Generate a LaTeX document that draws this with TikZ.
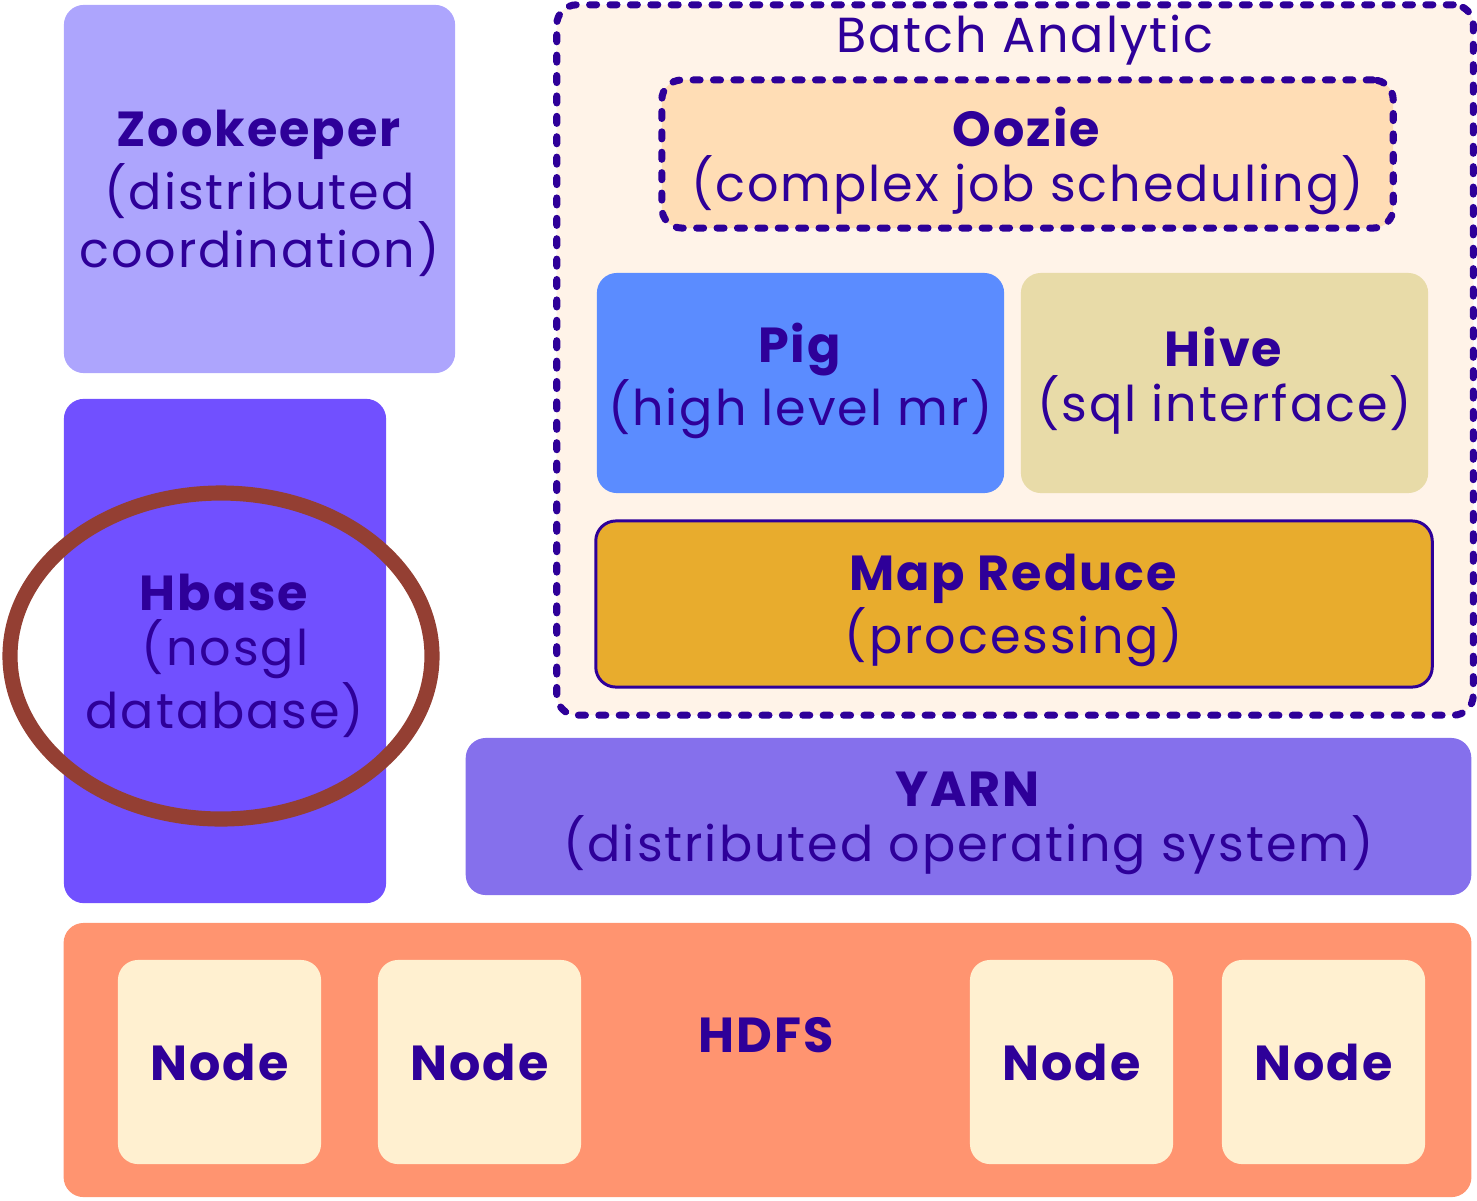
\documentclass[tikz,border=0pt]{standalone}
\usepackage{fontspec}
\setmainfont{Poppins}[LetterSpace=4]
\usetikzlibrary{positioning,shapes.geometric}

\definecolor{ink}{HTML}{2E0099}
\definecolor{zoo}{HTML}{ADA5FD}
\definecolor{hbase}{HTML}{7150FF}
\definecolor{ring}{HTML}{943F33}
\definecolor{batch}{HTML}{FFF3E8}
\definecolor{oozie}{HTML}{FFDDB5}
\definecolor{pig}{HTML}{5B8CFF}
\definecolor{hive}{HTML}{E8DBA8}
\definecolor{mapred}{HTML}{E8AC2D}
\definecolor{yarn}{HTML}{8570EC}
\definecolor{hdfs}{HTML}{FF9470}
\definecolor{dnode}{HTML}{FFF0D0}

\tikzset{
  box/.style={rounded corners=0.2cm, inner sep=0pt, align=center, text=ink,
    text depth=0pt, font=\fontsize{14}{15.6}\selectfont},
  dots/.style={draw=ink, line width=2pt, line cap=round,
    dash pattern=on 2pt off 3.8pt},
  datanode/.style={box, fill=dnode, minimum width=2.03cm, minimum height=2.04cm,
    font=\fontsize{14}{15.6}\selectfont\bfseries},
}

\begin{document}
\begin{tikzpicture}[x=0.01cm,y=-0.01cm]
  \useasboundingbox (0,0) rectangle (1477,1200);

  % left column
  \node[box, fill=zoo, minimum width=3.91cm, minimum height=3.68cm] (zk) at (259.5,189)
    {\textbf{Zookeeper}\\(distributed\\coordination)};
  \node[box, fill=hbase, minimum width=3.22cm, minimum height=5.04cm] (hb) at (225,651)
    {\textbf{Hbase}\\(nosgl\\database)};
  \draw[ring, line width=4.3pt] (221,656) ellipse (211 and 163);

  % batch analytic
  \node[box, fill=batch, dots, minimum width=9.16cm, minimum height=7.1cm] (ba) at (1015,360) {};
  \node[text=ink, font=\fontsize{14}{15.6}\selectfont, inner sep=0pt] (batitle) at (1025,40) {Batch Analytic};
  \node[box, fill=oozie, dots, minimum width=7.31cm, minimum height=1.48cm] (oz) at (1027.5,154)
    {\textbf{Oozie}\\(complex job scheduling)};
  \node[box, fill=pig, text depth=4.8pt, minimum width=4.07cm, minimum height=2.2cm] (pig) at (800.5,383)
    {\textbf{Pig}\\(high level mr)};
  \node[box, fill=hive, text depth=4.8pt, minimum width=4.07cm, minimum height=2.2cm] (hive) at (1224.5,383)
    {\textbf{Hive}\\(sql interface)};
  \node[box, fill=mapred, draw=ink, line width=0.85pt, minimum width=8.36cm, minimum height=1.66cm] (mr) at (1014,604)
    {\textbf{Map Reduce}\\(processing)};

  % yarn
  \node[box, fill=yarn, minimum width=10.05cm, minimum height=1.57cm] (yarn) at (968.5,816.5)
    {\textbf{YARN}\\(distributed operating system)};

  % hdfs
  \node[box, fill=hdfs, minimum width=14.07cm, minimum height=2.74cm] (hdfs) at (767.5,1060) {};
  \node[text=ink, font=\fontsize{14}{15.6}\selectfont\bfseries, inner sep=0pt] (hdfslabel) at (766,1035) {HDFS};
  \node[datanode] (n1) at (219.5,1062) {Node};
  \node[datanode] (n2) at (479.5,1062) {Node};
  \node[datanode] (n3) at (1071.5,1062) {Node};
  \node[datanode] (n4) at (1323.5,1062) {Node};

\end{tikzpicture}
\end{document}
